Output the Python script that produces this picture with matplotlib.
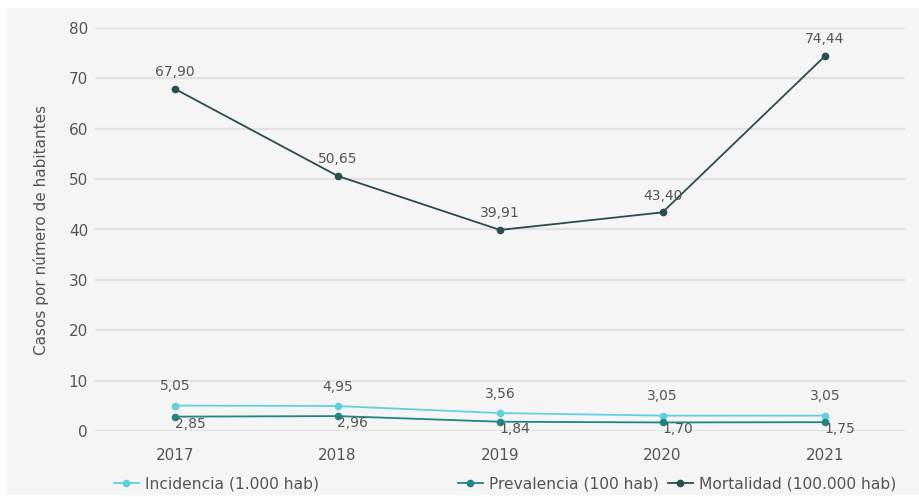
import matplotlib
matplotlib.use("Agg")
import matplotlib.pyplot as plt
from matplotlib.patches import Rectangle

# Data
years = [2017, 2018, 2019, 2020, 2021]
incidencia = [5.05, 4.95, 3.56, 3.05, 3.05]
prevalencia = [2.85, 2.96, 1.84, 1.70, 1.75]
mortalidad = [67.90, 50.65, 39.91, 43.40, 74.44]
series_labels = ["Incidencia (1.000 hab)", "Prevalencia (100 hab)", "Mortalidad (100.000 hab)"]
y_ticks = [0, 10, 20, 30, 40, 50, 60, 70, 80]

FONT = "DejaVu Sans"
TXT = "#555555"
BG = "#f5f5f5"
C_INC = "#5fd1de"
C_PRE = "#1f8585"
C_MOR = "#2b4d4f"

def fmt(v):
    return f"{v:.2f}".replace(".", ",")

fig = plt.figure(figsize=(9.2, 4.97), dpi=100)
fig.patch.set_facecolor("white")
fig.patches.append(Rectangle((7 / 920, 0.005), 1, 1 - 8 / 497 - 0.005,
                             transform=fig.transFigure, facecolor=BG,
                             edgecolor="none", zorder=-10))

ax = fig.add_axes([95 / 920, 66 / 497, 810 / 920, 403 / 497])
ax.set_facecolor("none")
ax.set_xlim(2017 - 80 / 162.5, 2021 + 80 / 162.5)
ax.set_ylim(0, 80)
ax.set_yticks(y_ticks)
ax.set_xticks(years)
ax.set_xticklabels([str(y) for y in years])
ax.grid(axis="y", color="#e2e2e2", linewidth=1.6)
ax.set_axisbelow(True)
for s in ax.spines.values():
    s.set_visible(False)
ax.tick_params(axis="both", length=0, labelsize=11, labelcolor=TXT)
ax.tick_params(axis="y", pad=5)
ax.tick_params(axis="x", pad=12)
for lab in ax.get_xticklabels() + ax.get_yticklabels():
    lab.set_family(FONT)
ax.set_ylabel("Casos por número de habitantes", fontsize=11, color=TXT,
              family=FONT, labelpad=14)

kw = dict(marker="o", markersize=4.5, linewidth=1.3, clip_on=False)
l1, = ax.plot(years, incidencia, color=C_INC, label=series_labels[0], **kw)
l2, = ax.plot(years, prevalencia, color=C_PRE, label=series_labels[1], **kw)
l3, = ax.plot(years, mortalidad, color=C_MOR, label=series_labels[2], **kw)

for x, v in zip(years, mortalidad):
    ax.annotate(fmt(v), (x, v), xytext=(0, 7), textcoords="offset points",
                ha="center", va="bottom", fontsize=10, color=TXT, family=FONT)
for x, v in zip(years, incidencia):
    ax.annotate(fmt(v), (x, v), xytext=(0, 9), textcoords="offset points",
                ha="center", va="bottom", fontsize=10, color=TXT, family=FONT)
for x, v in zip(years, prevalencia):
    ax.annotate(fmt(v), (x, v), xytext=(11, -5), textcoords="offset points",
                ha="center", va="center", fontsize=10, color=TXT, family=FONT)

# one legend entry per series, each placed along the bottom row
legend_x = [114 / 920, 458 / 920, 668 / 920]
for handle, lx in zip([l1, l2, l3], legend_x):
    leg = fig.legend(handles=[handle], loc="center left",
                     bbox_to_anchor=(lx, 1 - 484 / 497), frameon=False,
                     prop={"family": FONT, "size": 11.2}, handlelength=1.6,
                     handletextpad=0.4, borderaxespad=0, borderpad=0)
    for t in leg.get_texts():
        t.set_color(TXT)

fig.savefig("out.png", dpi=100, facecolor=fig.get_facecolor())
